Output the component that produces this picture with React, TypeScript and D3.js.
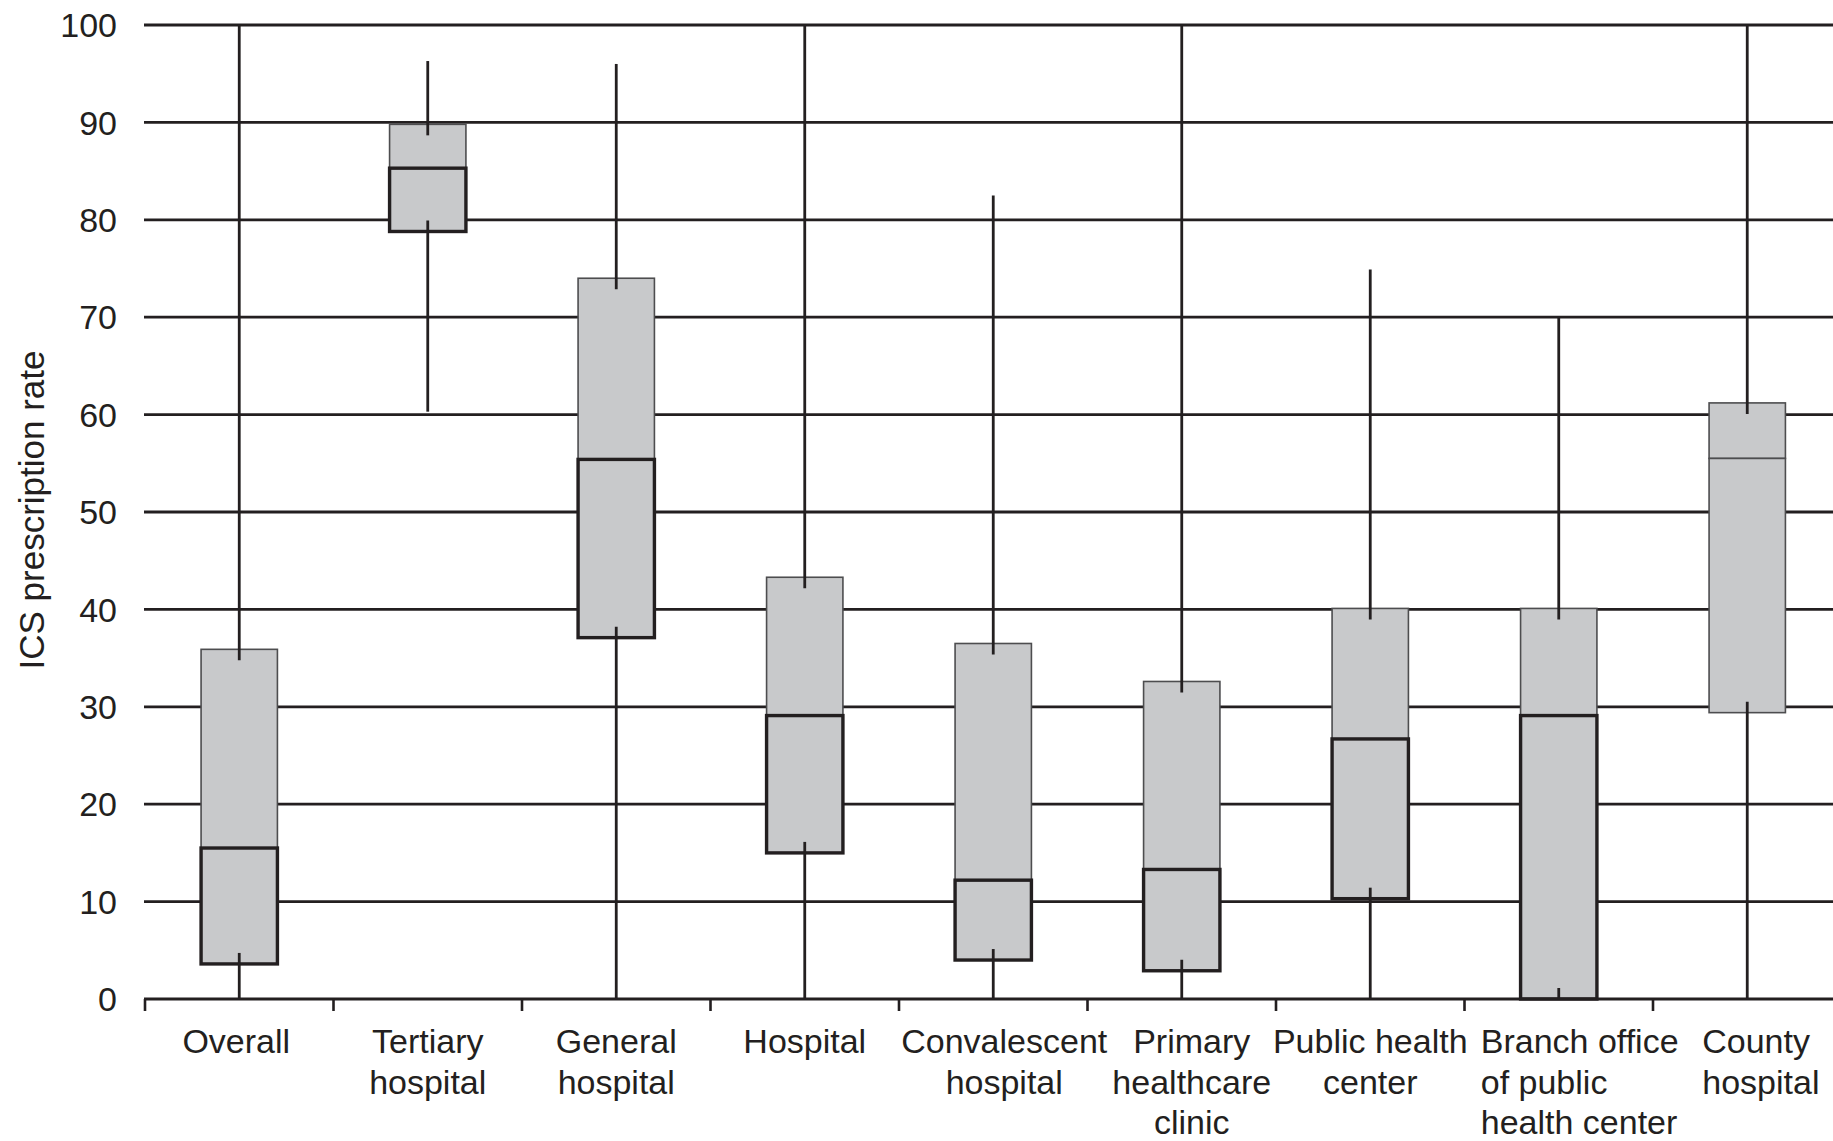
import { scaleBand, scaleLinear } from 'd3'

// ICS prescription rate by institution type — box plot (median, IQR, whiskers)
// upper half of each box is drawn thin, lower half (median..Q1) thick, as in the source figure

const CATEGORIES = [
  'Overall',
  'Tertiary hospital',
  'General hospital',
  'Hospital',
  'Convalescent hospital',
  'Primary healthcare clinic',
  'Public health center',
  'Branch office of public health center',
  'County hospital',
]

const LABEL_LINES = [
  ['Overall'],
  ['Tertiary', 'hospital'],
  ['General', 'hospital'],
  ['Hospital'],
  ['Convalescent', 'hospital'],
  ['Primary', 'healthcare', 'clinic'],
  ['Public health', 'center'],
  ['Branch office', 'of public', 'health center'],
  ['County', 'hospital'],
]

const WHISKER_LOW = [0, 60.3, 0, 0, 0, 0, 0, 0, 0]
const Q1 = [3.6, 78.8, 37.1, 15.0, 4.0, 2.9, 10.3, 0, 29.4]
const MEDIAN = [15.5, 85.3, 55.4, 29.1, 12.2, 13.3, 26.7, 29.1, 55.5]
const Q3 = [35.9, 89.8, 74.0, 43.3, 36.5, 32.6, 40.1, 40.1, 61.2]
const WHISKER_HIGH = [100, 96.3, 96.0, 100, 82.5, 100, 74.9, 70.0, 100]

const Y_TICKS = [0, 10, 20, 30, 40, 50, 60, 70, 80, 90, 100]

// box whose lower half is drawn thin like the upper half
const THIN_LOWER = ['County hospital']
// labels printed as left-aligned blocks instead of centered
const LEFT_LABELS: Record<string, number> = {
  'Branch office of public health center': -78,
  'County hospital': -45,
}
const LABEL_DX: Record<string, number> = {
  'Convalescent hospital': 11,
  'Primary healthcare clinic': 10,
  Overall: -3,
}

const W = 1833
const H = 1141
const PLOT_LEFT = 145
const BAND = 188.5
const Y_TOP = 25
const Y_BOTTOM = 999
const INK = '#231f20'
const FONT = '"Liberation Sans", Arial, Helvetica, sans-serif'
const FONT_SIZE = 34
const OVERLAP = 11

export default function App() {
  const x = scaleBand<string>()
    .domain(CATEGORIES)
    .range([PLOT_LEFT, PLOT_LEFT + BAND * CATEGORIES.length])
    .padding(0)
  const y = scaleLinear().domain([0, 100]).range([Y_BOTTOM, Y_TOP])
  const boxW = x.bandwidth() * 0.405
  const right = PLOT_LEFT + BAND * CATEGORIES.length

  return (
    <svg
      width={W}
      height={H}
      viewBox={`0 0 ${W} ${H}`}
      style={{ position: 'absolute', left: 0, top: 0, display: 'block', background: '#fff' }}
      fontFamily={FONT}
    >
      <rect x={0} y={0} width={W} height={H} fill="#fff" />

      {/* gridlines + y tick labels */}
      {Y_TICKS.map((t) => (
        <g key={t}>
          {t > 0 && (
            <line x1={PLOT_LEFT - 1} x2={right} y1={y(t)} y2={y(t)} stroke={INK} strokeWidth={2.8} />
          )}
          <text
            x={117}
            y={y(t)}
            dy="0.36em"
            textAnchor="end"
            fontSize={FONT_SIZE}
            fill={INK}
          >
            {t}
          </text>
        </g>
      ))}

      {/* boxes */}
      {CATEGORIES.map((c, i) => {
        const cx = (x(c) ?? 0) + x.bandwidth() / 2
        const x0 = cx - boxW / 2
        const thin = THIN_LOWER.includes(c)
        return (
          <g key={c}>
            <rect
              x={x0}
              y={y(Q3[i])}
              width={boxW}
              height={y(MEDIAN[i]) - y(Q3[i])}
              fill="#c8c9cb"
              stroke="#4d4d4f"
              strokeWidth={1.6}
            />
            <rect
              x={x0}
              y={y(MEDIAN[i])}
              width={boxW}
              height={y(Q1[i]) - y(MEDIAN[i])}
              fill="#c8c9cb"
              stroke={thin ? '#4d4d4f' : INK}
              strokeWidth={thin ? 1.6 : 3.4}
            />
          </g>
        )
      })}

      {/* whiskers, drawn over the box edge a little */}
      {CATEGORIES.map((c, i) => {
        const cx = (x(c) ?? 0) + x.bandwidth() / 2
        return (
          <g key={c} stroke={INK} strokeWidth={2.8}>
            <line x1={cx} x2={cx} y1={y(WHISKER_HIGH[i])} y2={y(Q3[i]) + OVERLAP} />
            <line x1={cx} x2={cx} y1={y(WHISKER_LOW[i])} y2={y(Q1[i]) - OVERLAP} />
          </g>
        )
      })}

      {/* x axis */}
      <line x1={PLOT_LEFT - 1} x2={right} y1={y(0)} y2={y(0)} stroke={INK} strokeWidth={3} />
      {[...CATEGORIES.map((c) => x(c) ?? 0), right].map((tx, i) => (
        <line key={i} x1={tx} x2={tx} y1={y(0)} y2={y(0) + 12} stroke={INK} strokeWidth={2.6} />
      ))}

      {/* category labels */}
      {CATEGORIES.map((c, i) => {
        const cx = (x(c) ?? 0) + x.bandwidth() / 2
        const left = LEFT_LABELS[c]
        const tx = left !== undefined ? cx + left : cx + (LABEL_DX[c] ?? 0)
        return (
          <text
            key={c}
            fontSize={FONT_SIZE}
            fill={INK}
            textAnchor={left !== undefined ? 'start' : 'middle'}
          >
            {LABEL_LINES[i].map((line, j) => (
              <tspan key={j} x={tx} y={1053 + j * 40.5}>
                {line}
              </tspan>
            ))}
          </text>
        )
      })}

      {/* y axis title */}
      <text
        transform={`translate(31, 510) rotate(-90)`}
        textAnchor="middle"
        dominantBaseline="central"
        fontSize={35}
        fill={INK}
      >
        ICS prescription rate
      </text>
    </svg>
  )
}
